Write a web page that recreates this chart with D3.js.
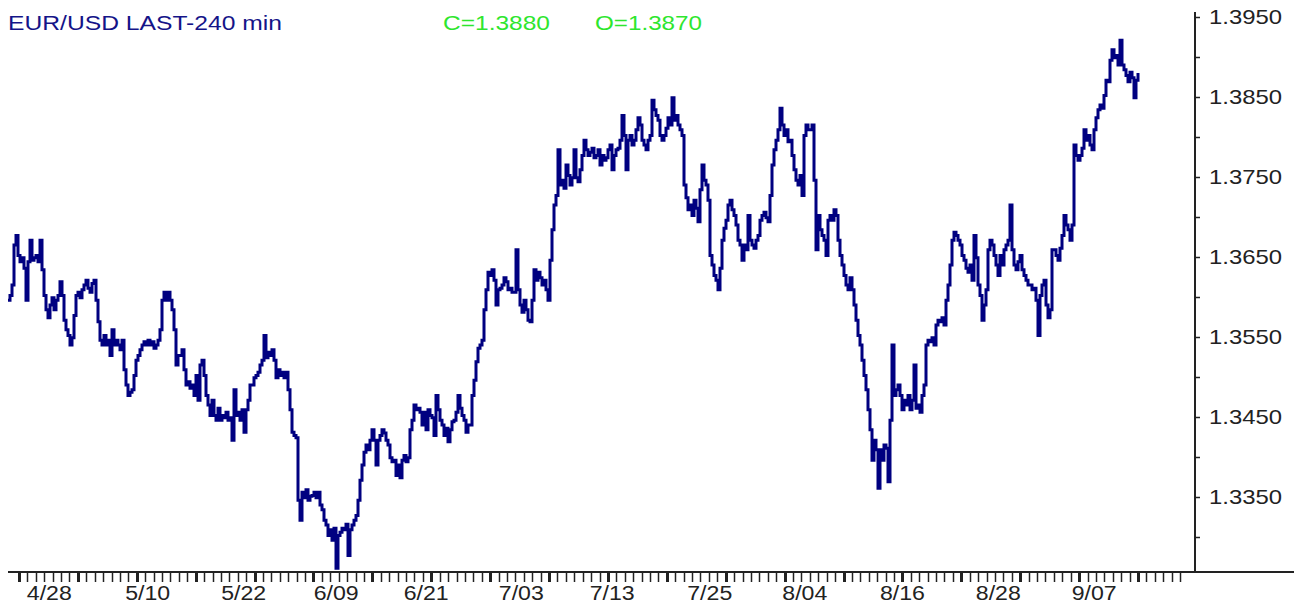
<!DOCTYPE html>
<html>
<head>
<meta charset="utf-8">
<style>
  html, body { margin: 0; padding: 0; background: #fff; }
  svg { display: block; font-family: Arial, "Liberation Sans", sans-serif; }
</style>
</head>
<body>
<svg id="chart" width="1294" height="606"></svg>
<script src="https://cdn.jsdelivr.net/npm/d3@7/dist/d3.min.js"></script>
<script>
// header texts
const title = "EUR/USD LAST-240 min";
const closeText = "C=1.3880";
const openText = "O=1.3870";

// price axis
const yMajor = [1.3350, 1.3450, 1.3550, 1.3650, 1.3750, 1.3850, 1.3950];
const yMinor = [1.3300, 1.3400, 1.3500, 1.3600, 1.3700, 1.3800, 1.3900];

// date axis: one tick per day, weeks marked bold, labels at their day position
const dayCount = 138;
const dateLabels = ["4/28", "5/10", "5/22", "6/09", "6/21", "7/03", "7/13", "7/25", "8/04", "8/16", "8/28", "9/07"];
const dateLabelDays = [3.6, 15.3, 26.7, 37.7, 48.4, 59.7, 70.5, 82.1, 93.4, 105.0, 116.4, 127.8];

// EUR/USD 240-min prices
const prices = [
  1.3596,1.3602,1.3615,1.3665,1.3677,1.3652,1.3644,1.3649,1.3636,1.3596,1.3644,1.3671,1.3646,1.3649,1.3652,1.3644,
  1.3671,1.3634,1.3602,1.3584,1.3574,1.3590,1.3599,1.3584,1.3596,1.3602,1.3619,1.3602,1.3571,1.3559,1.3552,1.3540,
  1.3549,1.3577,1.3602,1.3606,1.3599,1.3609,1.3615,1.3621,1.3611,1.3606,1.3617,1.3621,1.3596,1.3569,1.3546,1.3540,
  1.3552,1.3540,1.3546,1.3527,1.3559,1.3540,1.3546,1.3540,1.3534,1.3546,1.3509,1.3490,1.3477,1.3481,1.3484,1.3502,
  1.3521,1.3527,1.3534,1.3540,1.3544,1.3540,1.3546,1.3540,1.3544,1.3536,1.3540,1.3546,1.3559,1.3596,1.3606,1.3596,
  1.3606,1.3596,1.3584,1.3559,1.3515,1.3527,1.3527,1.3534,1.3509,1.3490,1.3494,1.3486,1.3490,1.3477,1.3502,1.3471,
  1.3515,1.3521,1.3502,1.3477,1.3465,1.3452,1.3471,1.3452,1.3446,1.3461,1.3446,1.3452,1.3449,1.3456,1.3446,1.3449,
  1.3421,1.3484,1.3452,1.3456,1.3446,1.3459,1.3431,1.3459,1.3471,1.3490,1.3490,1.3499,1.3502,1.3506,1.3515,1.3521,
  1.3552,1.3524,1.3531,1.3527,1.3534,1.3521,1.3499,1.3509,1.3502,1.3506,1.3499,1.3506,1.3484,
  1.3459,1.3431,1.3427,1.3424,1.3346,1.3321,1.3356,1.3349,1.3359,1.3346,1.3351,1.3352,1.3356,1.3349,1.3356,1.3340,
  1.3334,1.3321,1.3315,1.3302,1.3309,1.3296,1.3311,1.3261,1.3302,1.3306,1.3311,1.3309,1.3316,1.3277,1.3309,1.3315,
  1.3321,1.3327,1.3346,1.3371,1.3390,1.3406,1.3415,1.3409,1.3421,1.3434,1.3421,1.3390,1.3421,1.3427,1.3434,1.3430,
  1.3421,1.3415,1.3399,1.3394,1.3396,1.3377,1.3390,1.3374,1.3396,1.3402,1.3394,1.3399,1.3434,1.3446,1.3465,1.3459,
  1.3461,1.3456,1.3440,1.3456,1.3434,1.3459,1.3452,1.3449,1.3427,1.3477,1.3459,1.3446,1.3440,1.3427,1.3436,1.3419,
  1.3434,1.3444,1.3446,1.3456,1.3477,1.3461,1.3452,1.3446,1.3431,1.3440,1.3440,1.3477,1.3496,1.3519,1.3536,1.3540,
  1.3546,1.3584,1.3609,1.3631,1.3627,1.3634,1.3621,1.3590,1.3609,1.3611,1.3615,1.3624,1.3619,1.3609,1.3611,1.3606,
  1.3606,1.3659,1.3609,1.3590,1.3581,1.3596,1.3584,1.3571,1.3569,1.3596,1.3634,1.3621,1.3631,1.3624,1.3615,1.3621,
  1.3609,1.3596,1.3646,1.3684,1.3715,1.3727,1.3784,1.3740,1.3746,1.3736,1.3765,1.3752,1.3740,1.3749,1.3784,
  1.3749,1.3744,1.3759,1.3777,1.3796,1.3784,1.3777,1.3781,1.3786,1.3774,1.3777,1.3784,1.3765,1.3777,1.3771,1.3774,
  1.3784,1.3790,1.3759,1.3777,1.3784,1.3786,1.3796,1.3827,1.3802,1.3759,1.3796,1.3802,1.3790,1.3796,1.3809,1.3824,
  1.3815,1.3796,1.3790,1.3784,1.3796,1.3802,1.3846,1.3834,1.3827,1.3821,1.3802,1.3796,1.3802,1.3811,1.3824,1.3815,
  1.3849,1.3821,1.3827,1.3815,1.3809,1.3802,1.3740,1.3724,1.3709,1.3715,1.3702,1.3721,1.3711,1.3694,1.3734,1.3765,
  1.3746,1.3740,1.3721,1.3652,1.3640,1.3627,1.3621,1.3609,1.3636,1.3671,1.3686,1.3696,1.3715,1.3721,1.3709,1.3702,
  1.3690,1.3671,1.3665,1.3646,1.3665,1.3659,1.3702,1.3671,1.3665,1.3661,1.3671,1.3677,1.3696,1.3702,1.3706,1.3699,
  1.3694,1.3727,1.3765,1.3784,1.3796,1.3809,1.3836,1.3815,1.3802,1.3809,1.3794,1.3796,1.3777,1.3759,1.3746,1.3740,
  1.3752,1.3727,1.3802,1.3815,1.3809,1.3809,1.3815,1.3746,1.3659,1.3702,1.3684,1.3677,1.3671,1.3652,1.3696,1.3702,
  1.3696,1.3709,1.3702,1.3671,1.3652,1.3640,1.3627,1.3615,1.3609,1.3624,1.3609,1.3590,1.3571,1.3552,
  1.3540,1.3521,1.3502,1.3484,1.3459,1.3434,1.3396,1.3421,1.3409,1.3361,1.3409,1.3396,1.3415,1.3411,1.3369,1.3446,
  1.3540,1.3477,1.3484,1.3490,1.3477,1.3459,1.3471,1.3465,1.3477,1.3459,1.3471,1.3515,1.3461,1.3465,1.3456,1.3477,
  1.3490,1.3540,1.3546,1.3544,1.3549,1.3540,1.3565,1.3571,1.3569,1.3574,1.3565,1.3596,1.3615,1.3640,1.3671,1.3681,
  1.3677,1.3671,1.3665,1.3652,1.3646,1.3636,1.3631,1.3640,1.3621,1.3677,1.3649,1.3615,1.3602,1.3571,1.3590,1.3609,
  1.3659,1.3671,1.3665,1.3652,1.3640,1.3627,1.3652,1.3640,1.3659,1.3665,1.3671,1.3715,1.3659,1.3640,1.3634,1.3644,
  1.3652,1.3634,1.3627,1.3621,1.3615,1.3615,1.3609,1.3611,1.3596,1.3552,1.3602,1.3615,1.3621,1.3590,1.3574,1.3584,
  1.3659,1.3659,1.3652,1.3646,1.3661,1.3677,1.3702,1.3690,1.3684,1.3671,1.3690,1.3790,1.3777,1.3771,1.3777,1.3786,
  1.3809,1.3796,1.3802,1.3790,1.3784,1.3809,1.3824,1.3834,1.3840,1.3836,1.3852,1.3871,1.3869,1.3896,1.3909,1.3899,
  1.3902,1.3890,1.3921,1.3890,1.3884,1.3877,1.3869,1.3881,1.3874,1.3849,1.3871,1.3880
];

const svg = d3.select('#chart');
const axisColor = '#222';
const lineColor = '#000080';

const x = d3.scaleLinear().domain([0, prices.length - 1]).range([8, 1138]);
const y = d3.scaleLinear().domain([1.3350, 1.3950]).range([497, 17]);
const day = d3.scaleLinear().domain([0, 133]).range([19, 1138]);

const axisX = 1195;
const axisY = 572;

// price line
svg.append('path')
    .datum(prices)
    .attr('fill', 'none')
    .attr('stroke', lineColor)
    .attr('stroke-width', 3)
    .attr('d', d3.line()
        .x((d, i) => x(i))
        .y(d => y(d))
        .curve(d3.curveStepAfter));

// right price axis
svg.append('line')
    .attr('x1', axisX).attr('x2', axisX)
    .attr('y1', 12).attr('y2', axisY)
    .attr('stroke', axisColor).attr('stroke-width', 2);

svg.append('g').selectAll('line')
    .data(yMajor.concat(yMinor))
    .join('line')
    .attr('x1', axisX).attr('x2', axisX + 5)
    .attr('y1', d => Math.round(y(d)) + 0.5)
    .attr('y2', d => Math.round(y(d)) + 0.5)
    .attr('stroke', axisColor).attr('stroke-width', 1.5);

svg.append('g').selectAll('text')
    .data(yMajor)
    .join('text')
    .attr('x', 1209)
    .attr('y', d => y(d) + 7)
    .attr('font-size', 21)
    .attr('fill', axisColor)
    .attr('textLength', 73)
    .attr('lengthAdjust', 'spacingAndGlyphs')
    .text(d => d.toFixed(4));

// bottom date axis
svg.append('line')
    .attr('x1', 8).attr('x2', 1294)
    .attr('y1', axisY).attr('y2', axisY)
    .attr('stroke', axisColor).attr('stroke-width', 2);

svg.append('g').selectAll('line')
    .data(d3.range(dayCount + 1))
    .join('line')
    .attr('x1', d => Math.round(day(d)) + 0.5)
    .attr('x2', d => Math.round(day(d)) + 0.5)
    .attr('y1', axisY)
    .attr('y2', axisY + 10)
    .attr('stroke', axisColor)
    .attr('stroke-width', d => d % 7 === 0 ? 3 : 1.5);

svg.append('g').selectAll('text')
    .data(dateLabels)
    .join('text')
    .attr('x', (d, i) => day(dateLabelDays[i]))
    .attr('y', 600)
    .attr('text-anchor', 'middle')
    .attr('font-size', 20)
    .attr('fill', axisColor)
    .attr('textLength', 45)
    .attr('lengthAdjust', 'spacingAndGlyphs')
    .text(d => d);

// header
svg.append('text')
    .attr('x', 8).attr('y', 30)
    .attr('font-size', 21)
    .attr('fill', '#141488')
    .attr('textLength', 274)
    .attr('lengthAdjust', 'spacingAndGlyphs')
    .text(title);

svg.append('text')
    .attr('x', 443).attr('y', 30)
    .attr('font-size', 21)
    .attr('fill', '#2ee62e')
    .attr('textLength', 107)
    .attr('lengthAdjust', 'spacingAndGlyphs')
    .text(closeText);

svg.append('text')
    .attr('x', 595).attr('y', 30)
    .attr('font-size', 21)
    .attr('fill', '#2ee62e')
    .attr('textLength', 107)
    .attr('lengthAdjust', 'spacingAndGlyphs')
    .text(openText);
</script>
</body>
</html>
